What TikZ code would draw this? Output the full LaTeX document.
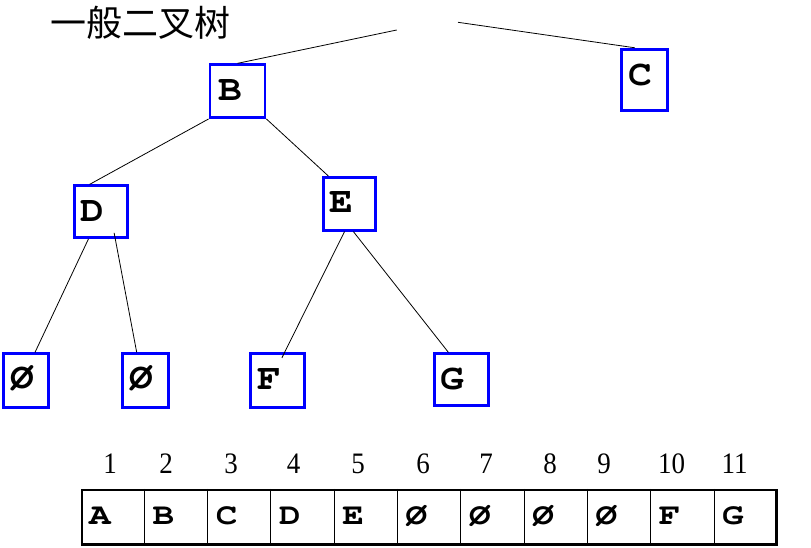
\documentclass[tikz,border=0pt]{standalone}
\usepackage{fontspec}
\usepackage{graphicx}
\setmainfont{Liberation Serif}
\newfontfamily\cjkfont{Noto Sans CJK SC}
\newfontfamily\courbold{texgyrecursor-bold.otf}
\usetikzlibrary{calc}
\begin{document}
\begin{tikzpicture}[x=1pt,y=-1pt,
  tbox/.style={draw=blue, line width=2.8pt, inner sep=0pt, rectangle},
  tlet/.style={anchor=base west, inner sep=0pt, font=\courbold\fontsize{36}{40}\selectfont},
  alet/.style={anchor=base west, inner sep=0pt, font=\courbold\fontsize{30}{34}\selectfont},
  num/.style={anchor=base, inner sep=0pt, font=\fontsize{27}{30}\selectfont},
  conn/.style={draw=black, line width=0.8pt},
  divider/.style={draw=black, line width=1pt},
  arraybox/.style={draw=black, line width=2.4pt, inner sep=0pt, rectangle}]
\useasboundingbox (0,0) rectangle (811,548);

% title
\node[anchor=base west, inner sep=0pt, font=\cjkfont\fontsize{36}{40}\selectfont] (title) at (50,37) {一般二叉树};

% tree boxes
\node[tbox, minimum width=55pt, minimum height=52.8pt] (bB) at (237.5,91.15) {};
\node[tbox, minimum width=45.9pt, minimum height=61pt] (bC) at (644.65,79.7) {};
\node[tbox, minimum width=53pt, minimum height=51.7pt] (bD) at (101.3,211.65) {};
\node[tbox, minimum width=52.6pt, minimum height=52.7pt] (bE) at (349.5,203.85) {};
\node[tbox, minimum width=45.3pt, minimum height=53.7pt] (bN1) at (25.85,380.65) {};
\node[tbox, minimum width=46pt, minimum height=53.7pt] (bN2) at (145.5,380.65) {};
\node[tbox, minimum width=53.7pt, minimum height=53.7pt] (bF) at (277.35,380.65) {};
\node[tbox, minimum width=54pt, minimum height=51.4pt] (bG) at (461.5,379.5) {};

% tree letters
\node[tlet] (tB) at (218.2,100.7) {\scalebox{1.1}[1]{B}};
\node[tlet] (tC) at (628,85.5) {\scalebox{1.1}[1]{C}};
\node[tlet] (tD) at (80.2,221.7) {\scalebox{1.1}[1]{D}};
\node[tlet] (tE) at (329.2,213) {\scalebox{1.1}[1]{E}};
\node[tlet] (tN1) at (10,388) {\scalebox{1.1}[1]{Ø}};
\node[tlet] (tN2) at (129.5,388) {\scalebox{1.1}[1]{Ø}};
\node[tlet] (tF) at (257.5,389) {\scalebox{1.1}[1]{F}};
\node[tlet] (tG) at (440.5,389) {\scalebox{1.1}[1]{G}};

% free ends of the two lines from the (blank) root
\coordinate (rootL) at (396.7,30);
\coordinate (rootR) at (458,22.3);

% connectors
\draw[conn] (rootL) -- ($(bB.north west)!0.5!(bB.north east)$);
\draw[conn] (rootR) -- ($(bC.north west)!0.3!(bC.north east)$);
\draw[conn] (bB.south west) -- ($(bD.north west)!0.29!(bD.north east)$);
\draw[conn] (bB.south east) -- ($(bE.north west)!0.12!(bE.north east)$);
\draw[conn] ($(bD.south west)!0.27!(bD.south east)$) -- ($(bN1.north west)!0.69!(bN1.north east)$);
\draw[conn] ($(bD.south west)!0.73!(bD.south east)+(0,-6)$) -- ($(bN2.north west)!0.32!(bN2.north east)$);
\draw[conn] ($(bE.south west)!0.41!(bE.south east)$) -- ($(bF.north west)!0.58!(bF.north east)+(0,5.5)$);
\draw[conn] ($(bE.south west)!0.57!(bE.south east)$) -- ($(bG.north west)!0.27!(bG.north east)$);

% array
\node[arraybox, minimum width=694.5pt, minimum height=54.5pt] (arr) at (429.25,517.25) {};
\foreach \k in {1,...,10}{
  \draw[divider] ($(arr.north west)!\k/11!(arr.north east)$) -- ($(arr.south west)!\k/11!(arr.south east)$);
}
\foreach \lab [count=\i from 0] in {A,B,C,D,E,Ø,Ø,Ø,Ø,F,G}{
  \node[alet] (a\i) at ({81+63.3*\i+8},524.5) {\scalebox{1.2}[1]{\lab}};
}

% index numbers
\foreach \n/\xx in {1/110,2/166,3/231,4/293.5,5/358,6/423,7/486,8/550,9/604,10/671.5,11/734.5}{
  \node[num] (n\n) at (\xx,473.3) {\scalebox{1}[1.1]{\n}};
}
\end{tikzpicture}
\end{document}
